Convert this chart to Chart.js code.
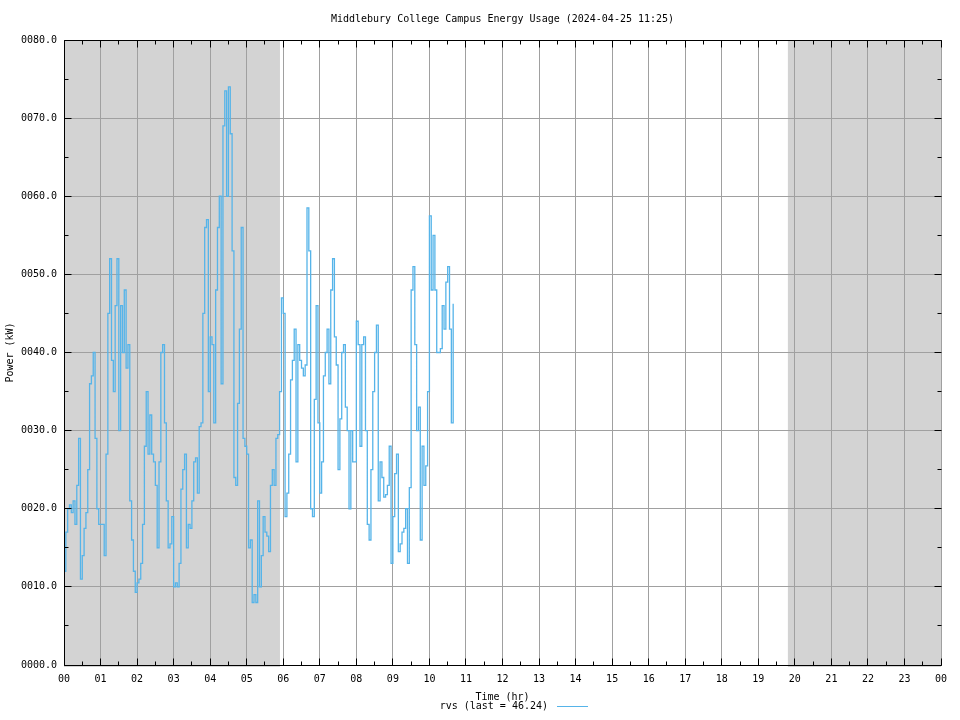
<!DOCTYPE html>
<html>
<head>
<meta charset="utf-8">
<script src="https://cdn.jsdelivr.net/npm/chart.js@4.4.1/dist/chart.umd.min.js"></script>
<style>
  html, body { margin: 0; background: #fff; }
</style>
</head>
<body>
<canvas id="chart-energy" width="960" height="720"></canvas>
<script>
/* ── Datos ── */
const chartTitle   = 'Middlebury College Campus Energy Usage (2024-04-25 11:25)';
const seriesName   = 'rvs';
const lastReading  = 46.24;
const sampleStartHr = 0;      // primera muestra (hora)
const sampleStepHr  = 0.05;   // 3 minutos entre muestras

// potencia (kW), una muestra cada 3 min desde las 00:00
const rvsKw = [
  12, 17, 20, 20.5, 19.5, 21, 18, 23, 29, 11, 14, 17.5, 19.5, 25, 36, 37, 40, 29, 20, 18,
  18, 18, 14, 27, 45, 52, 39, 35, 46, 52, 30, 46, 40, 48, 38, 41, 21, 16, 12, 9.3,
  10.5, 11, 13, 18, 28, 35, 27, 32, 27, 26, 23, 15, 26, 40, 41, 31, 21, 15, 15.5, 19,
  10, 10.5, 10, 13, 22.5, 25, 27, 15, 18, 17.5, 21, 26, 26.5, 22, 30.5, 31, 45, 56, 57, 35,
  42, 41, 31, 48, 56, 60, 36, 69, 73.5, 60, 74, 68, 53, 24, 23, 33.5, 43, 56, 29, 28,
  27, 15, 16, 8, 9, 8, 21, 10, 14, 19, 17, 16.5, 14.5, 23, 25, 23, 29, 29.5, 35, 47,
  45, 19, 22, 27, 36.5, 39, 43, 26, 41, 39, 38, 37, 38.4, 58.5, 53, 20, 19, 34, 46, 31,
  22, 26, 37, 40, 43, 36, 48, 52, 42, 38.4, 25, 31.5, 40, 41, 33, 30, 20, 30, 26, 26,
  44, 41, 28, 41, 42, 30, 18, 16, 25, 35, 40, 43.5, 21, 26, 24, 21.5, 21.8, 23, 28, 13,
  19, 24.5, 27, 14.5, 15.5, 17, 17.5, 20, 13, 22.7, 48, 51, 41, 30, 33, 16, 28, 23, 25.5, 35,
  57.5, 48, 55, 48, 40, 40, 40.5, 46, 43, 49, 51, 43, 31, 46.24
];

// horas de noche (sombreado gris)
const nightSpans = [[0, 5.91], [19.81, 24]];

const FONT    = '"DejaVu Sans Mono", monospace';
const GRID    = '#a0a0a0';
const SHADE   = '#d3d3d3';
const LINE    = '#56b4e9';

const points = rvsKw.map((v, i) => ({ x: sampleStartHr + i * sampleStepHr, y: v }));

const crisp = p => Math.round(p - 0.5) + 0.5;

/* ── Sombreado nocturno (antes de la grilla) ── */
const nightShade = {
  id: 'nightShade',
  beforeDraw(chart) {
    const { ctx, chartArea: a, scales: { x } } = chart;
    ctx.save();
    ctx.fillStyle = SHADE;
    nightSpans.forEach(([h0, h1]) => {
      const x0 = x.getPixelForValue(h0);
      const x1 = x.getPixelForValue(h1);
      ctx.fillRect(x0, a.top, x1 - x0, a.bottom - a.top + 2);
    });
    ctx.restore();
  }
};

/* ── Marco, ticks hacia adentro, textos y leyenda ── */
const frame = {
  id: 'frame',
  afterDraw(chart) {
    const { ctx, chartArea: a, scales: { x, y } } = chart;
    const L = crisp(a.left), R = crisp(a.right), T = crisp(a.top), B = crisp(a.bottom);
    ctx.save();
    ctx.strokeStyle = '#000';
    ctx.lineWidth = 1;
    ctx.beginPath();
    ctx.moveTo(R, T); ctx.lineTo(L, T); ctx.lineTo(L, B); ctx.lineTo(R, B);

    // ticks horizontales (horas y medias horas)
    for (let h = 0; h <= 24; h += 0.5) {
      const px = crisp(x.getPixelForValue(h));
      const len = Number.isInteger(h) ? 7 : 4;
      ctx.moveTo(px, B); ctx.lineTo(px, B - len);
      ctx.moveTo(px, T); ctx.lineTo(px, T + len);
    }
    // ticks verticales (cada 5 kW)
    for (let v = 0; v <= 80; v += 5) {
      const py = crisp(y.getPixelForValue(v));
      const len = v % 10 === 0 ? 7 : 4;
      ctx.moveTo(L, py); ctx.lineTo(L + len, py);
      ctx.moveTo(R, py); ctx.lineTo(R - len, py);
    }
    ctx.stroke();

    ctx.fillStyle = '#000';
    ctx.font = '10px ' + FONT;
    ctx.textBaseline = 'middle';
    const cx = (a.left + a.right) / 2;

    ctx.textAlign = 'center';
    ctx.fillText(chartTitle, cx, 19);
    ctx.fillText('Time (hr)', cx, 697);

    ctx.textAlign = 'right';
    ctx.fillText(`${seriesName} (last = ${lastReading.toFixed(2)})`, 548, 706);
    ctx.strokeStyle = LINE;
    ctx.beginPath();
    ctx.moveTo(557, 706.5); ctx.lineTo(588, 706.5);
    ctx.stroke();

    ctx.translate(10, (a.top + a.bottom) / 2);
    ctx.rotate(-Math.PI / 2);
    ctx.textAlign = 'center';
    ctx.fillText('Power (kW)', 0, 0);
    ctx.restore();
  }
};

const tickFont = { family: FONT, size: 10 };

new Chart(document.getElementById('chart-energy').getContext('2d'), {
  type: 'line',
  data: {
    datasets: [{
      label: seriesName,
      data: points,
      borderColor: LINE,
      borderWidth: 1.3,
      pointRadius: 0,
      stepped: true,
      fill: false,
    }],
  },
  options: {
    responsive: false,
    animation: false,
    layout: { padding: { top: 40, right: 19, left: 0, bottom: 0 } },
    plugins: {
      legend: { display: false },
      tooltip: { enabled: false },
    },
    scales: {
      x: {
        type: 'linear', min: 0, max: 24,
        afterFit: s => { s.height = 55; },
        border: { display: false },
        grid: { color: GRID, lineWidth: 1, drawTicks: false },
        ticks: {
          stepSize: 1, autoSkip: false, maxRotation: 0, padding: 8,
          color: '#000', font: tickFont,
          callback: v => String(v % 24).padStart(2, '0'),
        },
      },
      y: {
        min: 0, max: 80,
        afterFit: s => { s.width = 64; },
        border: { display: false },
        grid: { color: GRID, lineWidth: 1, drawTicks: false },
        ticks: {
          stepSize: 10, padding: 7,
          color: '#000', font: tickFont,
          callback: v => v.toFixed(1).padStart(6, '0'),
        },
      },
    },
  },
  plugins: [nightShade, frame],
});
</script>
</body>
</html>
